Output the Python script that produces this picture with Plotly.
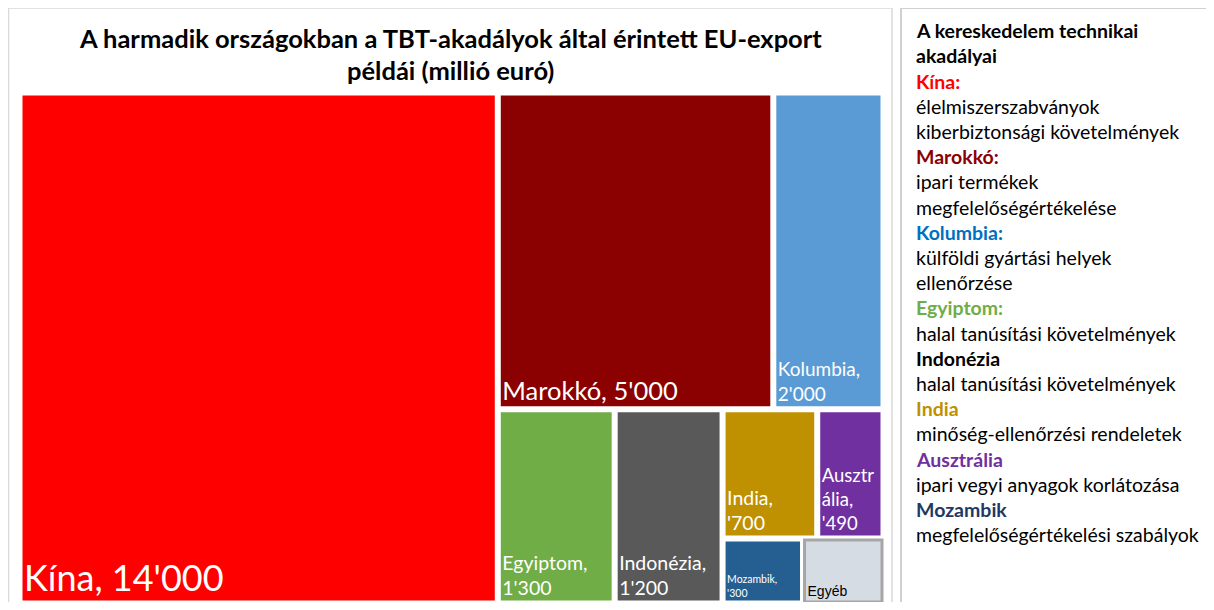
import plotly.graph_objects as go

# ---------------- data ----------------
countries = ["Kína", "Marokkó", "Kolumbia", "Egyiptom", "Indonézia",
             "India", "Ausztrália", "Mozambik", "Egyéb"]
values = [14000, 5000, 2000, 1300, 1200, 700, 490, 300, 300]
# display names (with the line breaks used in the tiles)
display_names = ["Kína, ", "Marokkó, ", "Kolumbia,<br>", "Egyiptom,<br>",
                 "Indonézia,<br>", "India,<br>", "Ausztr<br>ália,<br>",
                 "Mozambik,<br>", "Egyéb"]
show_value = [True, True, True, True, True, True, True, True, False]
tile_colors = ["#FF0000", "#8B0000", "#5B9BD5", "#70AD47", "#595959",
               "#BF9000", "#7030A0", "#255E91", "#D6DCE4"]
text_sizes = [36, 25.5, 19, 19.5, 19.5, 19.5, 18.5, 10.5, 14]
text_colors = ["white"] * 8 + ["black"]

# grouping (layout hierarchy of the tiles)
group_ids = ["G1", "G2", "G3", "G4", "G5", "G6"]
group_parents = ["", "G1", "G1", "G3", "G4", "G4"]
country_parents = ["", "G2", "G2", "G3", "G3", "G5", "G5", "G6", "G6"]

title_lines = ["A harmadik országokban a TBT-akadályok által érintett EU-export",
               "példái (millió euró)"]

side_lines = [
    ("A kereskedelem technikai", "black", True),
    ("akadályai", "black", True),
    ("Kína:", "#FF0000", True),
    ("élelmiszerszabványok", "black", False),
    ("kiberbiztonsági követelmények", "black", False),
    ("Marokkó:", "#8B0000", True),
    ("ipari termékek", "black", False),
    ("megfelelőségértékelése", "black", False),
    ("Kolumbia:", "#0070C0", True),
    ("külföldi gyártási helyek", "black", False),
    ("ellenőrzése", "black", False),
    ("Egyiptom:", "#70AD47", True),
    ("halal tanúsítási követelmények", "black", False),
    ("Indonézia", "black", True),
    ("halal tanúsítási követelmények", "black", False),
    ("India", "#BF9000", True),
    ("minőség-ellenőrzési rendeletek", "black", False),
    ("Ausztrália", "#7030A0", True),
    ("ipari vegyi anyagok korlátozása", "black", False),
    ("Mozambik", "#1F3864", True),
    ("megfelelőségértékelési szabályok", "black", False),
]


def fmt(v):
    s = f"{v:,}".replace(",", "'")
    if v < 1000:
        s = "'" + s
    return s


# -------------- build treemap arrays --------------
order = [("c", 0), ("g", 0), ("g", 1), ("c", 1), ("c", 2), ("g", 2),
         ("c", 3), ("c", 4), ("g", 3), ("g", 4), ("c", 5), ("c", 6),
         ("g", 5), ("c", 7), ("c", 8)]

ids, parents, vals, texts, colors, lcolors, tsizes, tcolors, tfam = [], [], [], [], [], [], [], [], []
for kind, i in order:
    if kind == "c":
        ids.append(countries[i])
        parents.append(country_parents[i])
        vals.append(values[i])
        texts.append(display_names[i] + (fmt(values[i]) if show_value[i] else ""))
        colors.append(tile_colors[i])
        lcolors.append("#A6A6A6" if countries[i] == "Egyéb" else "white")
        tsizes.append(text_sizes[i])
        tcolors.append(text_colors[i])
        tfam.append("Liberation Sans, Arial, sans-serif" if countries[i] == "Egyéb"
                    else "Lato, sans-serif")
    else:
        ids.append(group_ids[i])
        parents.append(group_parents[i])
        vals.append(0)
        texts.append("")
        colors.append("white")
        lcolors.append("white")
        tsizes.append(12)
        tcolors.append("white")
        tfam.append("Lato, sans-serif")

# page is 1214x610 with an 8px body margin around the figure
W, H = 1198, 594
OFF = 8


def px(x):
    return min(max((x - OFF) / W, 0.0), 1.0)


def py(y):
    return min(max((H - (y - OFF)) / H, 0.0), 1.0)


fig = go.Figure(go.Treemap(
    ids=ids,
    labels=ids,
    parents=parents,
    values=vals,
    branchvalues="remainder",
    sort=False,
    text=texts,
    textinfo="text",
    textposition="bottom left",
    textfont=dict(family=tfam, size=tsizes, color=tcolors),
    marker=dict(colors=colors, line=dict(color=lcolors, width=3),
                pad=dict(t=0, l=0, r=0, b=0)),
    tiling=dict(packing="slice-dice"),
    pathbar=dict(visible=False),
    hoverinfo="skip",
    domain=dict(x=[px(21), px(882)], y=[py(603), py(94)]),
))

shapes = [
    dict(type="rect", xref="paper", yref="paper",
         x0=px(8.5), x1=px(892), y0=-0.02, y1=py(8),
         line=dict(color="#D9D9D9", width=1.5), fillcolor="rgba(0,0,0,0)", layer="below"),
    dict(type="rect", xref="paper", yref="paper",
         x0=px(901), x1=1.02, y0=-0.02, y1=py(8),
         line=dict(color="#D0D0D0", width=2), fillcolor="rgba(0,0,0,0)", layer="below"),
]

annotations = []
title_y = [38, 70]
for t, yc in zip(title_lines, title_y):
    annotations.append(dict(
        text=f"<b>{t}</b>", x=px(450), y=py(yc), xref="paper", yref="paper",
        xanchor="center", yanchor="middle", showarrow=False,
        font=dict(family="Lato, sans-serif", size=25.5, color="black")))

for k, (t, c, b) in enumerate(side_lines):
    yc = 30.7 + 25.2 * k
    annotations.append(dict(
        text=(f"<b>{t}</b>" if b else t), x=px(914), y=py(yc),
        xref="paper", yref="paper", xanchor="left", yanchor="middle",
        showarrow=False, font=dict(family="Lato, sans-serif",
                                   size=19.5, color=c)))

fig.update_layout(
    width=W, height=H,
    margin=dict(l=0, r=0, t=0, b=0),
    paper_bgcolor="white",
    shapes=shapes,
    annotations=annotations,
    showlegend=False,
)

fig.write_html("out.html")
